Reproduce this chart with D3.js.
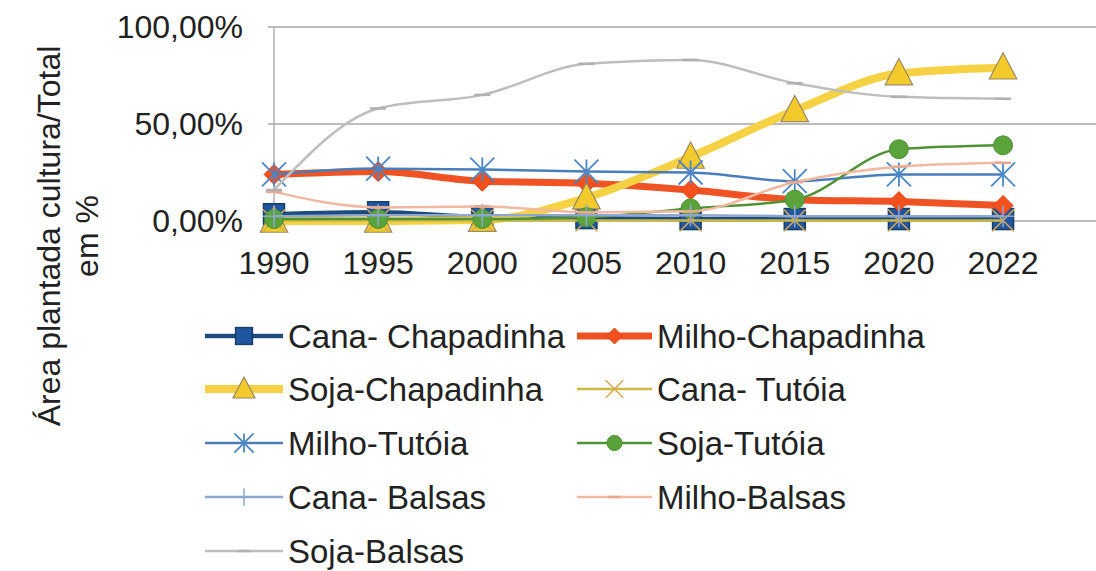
<!DOCTYPE html>
<html lang="pt">
<head>
<meta charset="utf-8">
<title>Área plantada</title>
<script src="https://cdn.jsdelivr.net/npm/d3@7"></script>
<style>
  body { margin: 0; background: #fff; }
  svg { display: block; font-family: "Liberation Sans", Arial, sans-serif; }
</style>
</head>
<body>
<div id="chart"></div>
<script>
// dados (% da área plantada)
var anos = ["1990", "1995", "2000", "2005", "2010", "2015", "2020", "2022"];
var canaChapadinha  = [3.5, 4.5, 2, 1.5, 1, 1, 1, 1];
var milhoChapadinha = [24, 25.5, 20.5, 19.5, 16, 11, 10, 8];
var sojaChapadinha  = [0, 0, 0.5, 12, 33, 57, 76, 79];
var canaTutoia      = [0.3, 0.3, 0.3, 0.3, 0.3, 0.3, 0.3, 0.3];
var milhoTutoia     = [24, 27, 26.5, 25.5, 25, 20.5, 24, 24];
var sojaTutoia      = [1, 1, 1, 2, 6.5, 11, 37, 39];
var canaBalsas      = [2.5, 3, 3, 3, 3, 2.5, 2.5, 2.5];
var milhoBalsas     = [15, 7, 7.5, 4.5, 5, 20, 28, 30];
var sojaBalsas      = [16, 58, 65, 81, 83, 71, 64, 63];
var yTicks = [0, 50, 100];

var series = [
  {nome: "Cana- Chapadinha", v: canaChapadinha, cor: "#1c4d7e", lw: 4.5, m: "square", mf: "#2056a0", ms: "#173f66"},
  {nome: "Milho-Chapadinha", v: milhoChapadinha, cor: "#f05323", lw: 7, m: "diamond", mf: "#f4501c", ms: "#e0461a"},
  {nome: "Soja-Chapadinha", v: sojaChapadinha, cor: "#f6d143", lw: 8, m: "triangle", mf: "#f2cb2b", ms: "#9a8866"},
  {nome: "Cana- Tutóia", v: canaTutoia, cor: "#cdb840", lw: 2.5, m: "x", mf: "none", ms: "#d8a850"},
  {nome: "Milho-Tutóia", v: milhoTutoia, cor: "#4a7ebb", lw: 2.5, m: "star", mf: "none", ms: "#4a86c8"},
  {nome: "Soja-Tutóia", v: sojaTutoia, cor: "#4f9335", lw: 2.5, m: "circle", mf: "#5aa23a", ms: "#4f9335"},
  {nome: "Cana- Balsas", v: canaBalsas, cor: "#8fa6d0", lw: 2.5, m: "plus", mf: "none", ms: "#8fa6d0"},
  {nome: "Milho-Balsas", v: milhoBalsas, cor: "#f2b8a2", lw: 2.5, m: "dash", mf: "none", ms: "#e8a890"},
  {nome: "Soja-Balsas", v: sojaBalsas, cor: "#bebebe", lw: 2.5, m: "dash", mf: "none", ms: "#b0b0b0"}
];

var w = 1096, h = 571;
var esq = 274, topo = 27, base = 221;
var passo = 104.15;

var svg = d3.select("#chart").append("svg")
  .attr("width", w).attr("height", h);

var x = d3.scalePoint()
  .domain(anos)
  .range([esq, esq + passo * (anos.length - 1)]);
var y = d3.scaleLinear()
  .domain([0, 100])
  .range([base, topo]);

// grade
svg.append("g").selectAll("line")
  .data(yTicks)
  .enter().append("line")
  .attr("x1", esq - 6).attr("x2", w)
  .attr("y1", function(d){ return y(d); })
  .attr("y2", function(d){ return y(d); })
  .attr("stroke", "#a6a6a6").attr("stroke-width", 1.3);
svg.append("line")
  .attr("x1", esq).attr("x2", esq)
  .attr("y1", topo).attr("y2", base)
  .attr("stroke", "#a6a6a6").attr("stroke-width", 1.3);

// rótulos eixo y
svg.append("g").selectAll("text")
  .data(yTicks)
  .enter().append("text")
  .attr("x", 243)
  .attr("y", function(d){ return y(d) + 11; })
  .attr("text-anchor", "end")
  .attr("font-size", 32).attr("fill", "#222")
  .text(function(d){ return d3.format(".2f")(d).replace(".", ",") + "%"; });

// rótulos eixo x
svg.append("g").selectAll("text")
  .data(anos)
  .enter().append("text")
  .attr("x", function(d){ return x(d); })
  .attr("y", 274)
  .attr("text-anchor", "middle")
  .attr("font-size", 32).attr("fill", "#222")
  .text(function(d){ return d; });

// título eixo y
var tit = svg.append("text")
  .attr("transform", "translate(0,236) rotate(-90)")
  .attr("text-anchor", "middle")
  .attr("font-size", 32).attr("fill", "#222");
tit.append("tspan").attr("x", 0).attr("y", 60).text("Área plantada cultura/Total");
tit.append("tspan").attr("x", 0).attr("y", 98).text("em %");

function marcador(g, tipo, s) {
  if (tipo === "square") {
    g.append("rect").attr("x", -s/2).attr("y", -s/2).attr("width", s).attr("height", s);
  } else if (tipo === "diamond") {
    g.append("path").attr("d", "M0," + (-s/2) + "L" + s/2 + ",0L0," + s/2 + "L" + (-s/2) + ",0Z");
  } else if (tipo === "triangle") {
    g.append("path").attr("d", "M0," + (-s*0.6) + "L" + s*0.55 + "," + s*0.45 + "L" + (-s*0.55) + "," + s*0.45 + "Z");
  } else if (tipo === "circle") {
    g.append("circle").attr("r", s/2);
  } else if (tipo === "x") {
    g.append("path").attr("d", "M" + (-s/2) + "," + (-s/2) + "L" + s/2 + "," + s/2 + "M" + s/2 + "," + (-s/2) + "L" + (-s/2) + "," + s/2);
  } else if (tipo === "star") {
    g.append("path").attr("d", "M" + (-s/2) + "," + (-s/2) + "L" + s/2 + "," + s/2 + "M" + s/2 + "," + (-s/2) + "L" + (-s/2) + "," + s/2 + "M0," + (-s/2) + "L0," + s/2);
  } else if (tipo === "plus") {
    g.append("path").attr("d", "M0," + (-s/2) + "L0," + s/2 + "M" + (-s/2) + ",0L" + s/2 + ",0");
  } else if (tipo === "dash") {
    g.append("path").attr("d", "M" + (-s/2) + ",0L" + s/2 + ",0");
  }
}
var tam = {square: 21, diamond: 20, triangle: 25, circle: 19, x: 22, star: 24, plus: 22, dash: 16};
var traco = {square: 1.5, diamond: 1, triangle: 1.2, circle: 1, x: 1.5, star: 1.8, plus: 1.5, dash: 2.5};

var linha = d3.line()
  .x(function(d, i){ return x(anos[i]); })
  .y(function(d){ return y(d); })
  .curve(d3.curveMonotoneX);

series.forEach(function(s) {
  var g = svg.append("g");
  g.append("path")
    .datum(s.v)
    .attr("d", linha)
    .attr("fill", "none")
    .attr("stroke", s.cor)
    .attr("stroke-width", s.lw)
    .attr("stroke-linejoin", "round");
  s.v.forEach(function(d, i) {
    var mg = g.append("g")
      .attr("transform", "translate(" + x(anos[i]) + "," + y(d) + ")")
      .attr("fill", s.mf).attr("stroke", s.ms).attr("stroke-width", traco[s.m]);
    marcador(mg, s.m, tam[s.m]);
  });
});

// legenda
var colX = [205, 577];
var linY = [336, 389, 443, 497, 551];
series.forEach(function(s, i) {
  var cx = colX[i % 2], cy = linY[Math.floor(i / 2)];
  var largura = i % 2 === 0 ? 78 : 75;
  var g = svg.append("g").attr("transform", "translate(" + cx + "," + cy + ")");
  g.append("line").attr("x1", 0).attr("x2", largura)
    .attr("stroke", s.cor).attr("stroke-width", s.lw);
  var mg = g.append("g").attr("transform", "translate(" + largura/2 + ",0)")
    .attr("fill", s.mf).attr("stroke", s.ms).attr("stroke-width", traco[s.m]);
  marcador(mg, s.m, tam[s.m] * 0.8);
  g.append("text").attr("x", largura + 5).attr("y", 12)
    .attr("font-size", 33).attr("fill", "#222")
    .text(s.nome);
});
</script>
</body>
</html>
